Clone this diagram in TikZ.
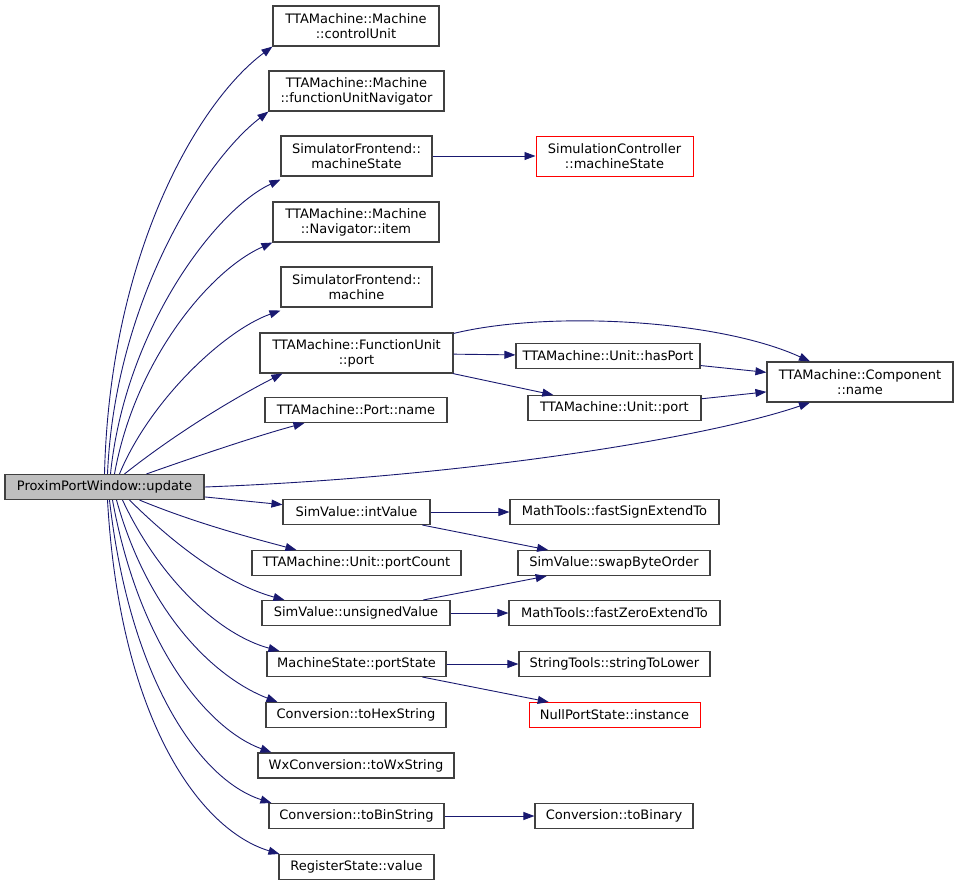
\documentclass[tikz,border=0pt]{standalone}
\usepackage{fontspec}
\setmainfont{DejaVu Sans}
\usetikzlibrary{arrows.meta}

\definecolor{edgeblue}{HTML}{191970}
\definecolor{boxgray}{HTML}{404040}
\definecolor{rootgray}{HTML}{BFBFBF}

\tikzset{
    fn/.style={draw=boxgray, line width=1.1pt, fill=white, inner sep=0pt,
        minimum height=25pt, align=center, font=\fontsize{13}{15}\selectfont},
    fntwo/.style={fn, minimum height=40pt},
    fnroot/.style={fn, fill=rootgray},
    fnred/.style={draw=red, line width=1pt},
    call/.style={draw=edgeblue, line width=0.9pt,
        -{Triangle[length=11pt,width=8pt]}, edgeblue},
}

\begin{document}
\begin{tikzpicture}[x=1pt, y=-1pt]
        \useasboundingbox (0,0) rectangle (959,886);

        % caller
        \node[fnroot, minimum width=199pt] (upd) at (104.5,487) {ProximPortWindow::update};

        % first column
        \node[fntwo, minimum width=166pt] (cu)   at (356,26)    {TTAMachine::Machine\\::controlUnit};
        \node[fntwo, minimum width=175pt] (fun)  at (356.5,91)  {TTAMachine::Machine\\::functionUnitNavigator};
        \node[fntwo, minimum width=151pt] (sfms) at (356.5,156) {SimulatorFrontend::\\machineState};
        \node[fntwo, minimum width=166pt] (item) at (356,222)   {TTAMachine::Machine\\::Navigator::item};
        \node[fntwo, minimum width=151pt] (mach) at (356.5,287) {SimulatorFrontend::\\machine};
        \node[fntwo, minimum width=193pt] (fup)  at (356.5,353) {TTAMachine::FunctionUnit\\::port};
        \node[fn, minimum width=182pt] (pname) at (356,410)   {TTAMachine::Port::name};
        \node[fn, minimum width=147pt] (intv)  at (356.5,512) {SimValue::intValue};
        \node[fn, minimum width=209pt] (pcnt)  at (356.5,563) {TTAMachine::Unit::portCount};
        \node[fn, minimum width=188pt] (uval)  at (356,613)   {SimValue::unsignedValue};
        \node[fn, minimum width=179pt] (pst)   at (356.5,664) {MachineState::portState};
        \node[fn, minimum width=180pt] (hex)   at (356,715)   {Conversion::toHexString};
        \node[fn, minimum width=196pt] (wx)    at (356,765.5) {WxConversion::toWxString};
        \node[fn, minimum width=175pt] (bins)  at (356.5,816) {Conversion::toBinString};
        \node[fn, minimum width=155pt] (reg)   at (356.5,867) {RegisterState::value};

        % second column
        \node[fntwo, fnred, minimum width=157pt] (sc) at (614.5,156) {SimulationController\\::machineState};
        \node[fn, minimum width=184pt] (hasp)  at (608,356)   {TTAMachine::Unit::hasPort};
        \node[fn, minimum width=173pt] (uport) at (614.5,408) {TTAMachine::Unit::port};
        \node[fn, minimum width=209pt] (fse)   at (614.5,512) {MathTools::fastSignExtendTo};
        \node[fn, minimum width=192pt] (swap)  at (614,563)   {SimValue::swapByteOrder};
        \node[fn, minimum width=211pt] (fze)   at (614.5,613) {MathTools::fastZeroExtendTo};
        \node[fn, minimum width=191pt] (stl)   at (614.5,664) {StringTools::stringToLower};
        \node[fn, fnred, minimum width=171pt] (nps) at (614.5,715) {NullPortState::instance};
        \node[fn, minimum width=158pt] (tobin) at (614,816)   {Conversion::toBinary};

        % third column
        \node[fntwo, minimum width=186pt] (comp) at (860,382) {TTAMachine::Component\\::name};

        % calls from update, upwards
        \draw[call] (upd.north) .. controls (110,250) and (200,100) .. (cu.south west);
        \draw[call] ([xshift=3pt]upd.north) .. controls (115,300) and (205,160) .. (fun.south west);
        \draw[call] ([xshift=6pt]upd.north) .. controls (125,330) and (215,210) .. ([yshift=-3pt]sfms.south west);
        \draw[call] ([xshift=10pt]upd.north) .. controls (135,360) and (210,270) .. (item.south west);
        \draw[call] ([xshift=15pt]upd.north) .. controls (150,400) and (225,330) .. ([yshift=-3pt]mach.south west);
        \draw[call] ([xshift=20pt]upd.north) .. controls (180,430) and (240,395) .. ([xshift=23pt]fup.south west);
        \draw[call] ([xshift=42pt]upd.north) .. controls (200,455) and (260,435) .. ([xshift=40pt]pname.south west);
        \draw[call] (upd.east) .. controls (450,478) and (700,440) .. ([xshift=-50pt]comp.south);

        % calls from update, downwards
        \draw[call] (upd) -- (intv);
        \draw[call] ([xshift=35pt]upd.south) .. controls (200,525) and (260,540) .. ([xshift=45pt]pcnt.north west);
        \draw[call] ([xshift=25pt]upd.south) .. controls (180,550) and (230,585) .. ([xshift=23pt]uval.north west);
        \draw[call] ([xshift=18pt]upd.south) .. controls (160,580) and (220,635) .. ([xshift=13pt]pst.north west);
        \draw[call] ([xshift=12pt]upd.south) .. controls (150,620) and (220,680) .. ([xshift=12pt]hex.north west);
        \draw[call] ([xshift=8pt]upd.south) .. controls (140,650) and (210,730) .. ([xshift=14pt]wx.north west);
        \draw[call] ([xshift=5pt]upd.south) .. controls (130,680) and (200,780) .. ([xshift=3pt]bins.north west);
        \draw[call] ([xshift=3pt]upd.south) .. controls (120,720) and (200,830) .. ([xshift=1pt]reg.north west);

        % second level
        \draw[call] (sfms) -- (sc);
        \draw[call] ([yshift=-1pt]fup.north east) .. controls (550,310) and (720,320) .. ([xshift=-50pt]comp.north);
        \draw[call] (fup) -- (hasp);
        \draw[call] (fup) -- (uport);
        \draw[call] (hasp) -- (comp);
        \draw[call] (uport) -- (comp);
        \draw[call] (intv) -- (fse);
        \draw[call] (intv) -- (swap);
        \draw[call] (uval) -- (swap);
        \draw[call] (uval) -- (fze);
        \draw[call] (pst) -- (stl);
        \draw[call] (pst) -- (nps);
        \draw[call] (bins) -- (tobin);

    \end{tikzpicture}
\end{document}
